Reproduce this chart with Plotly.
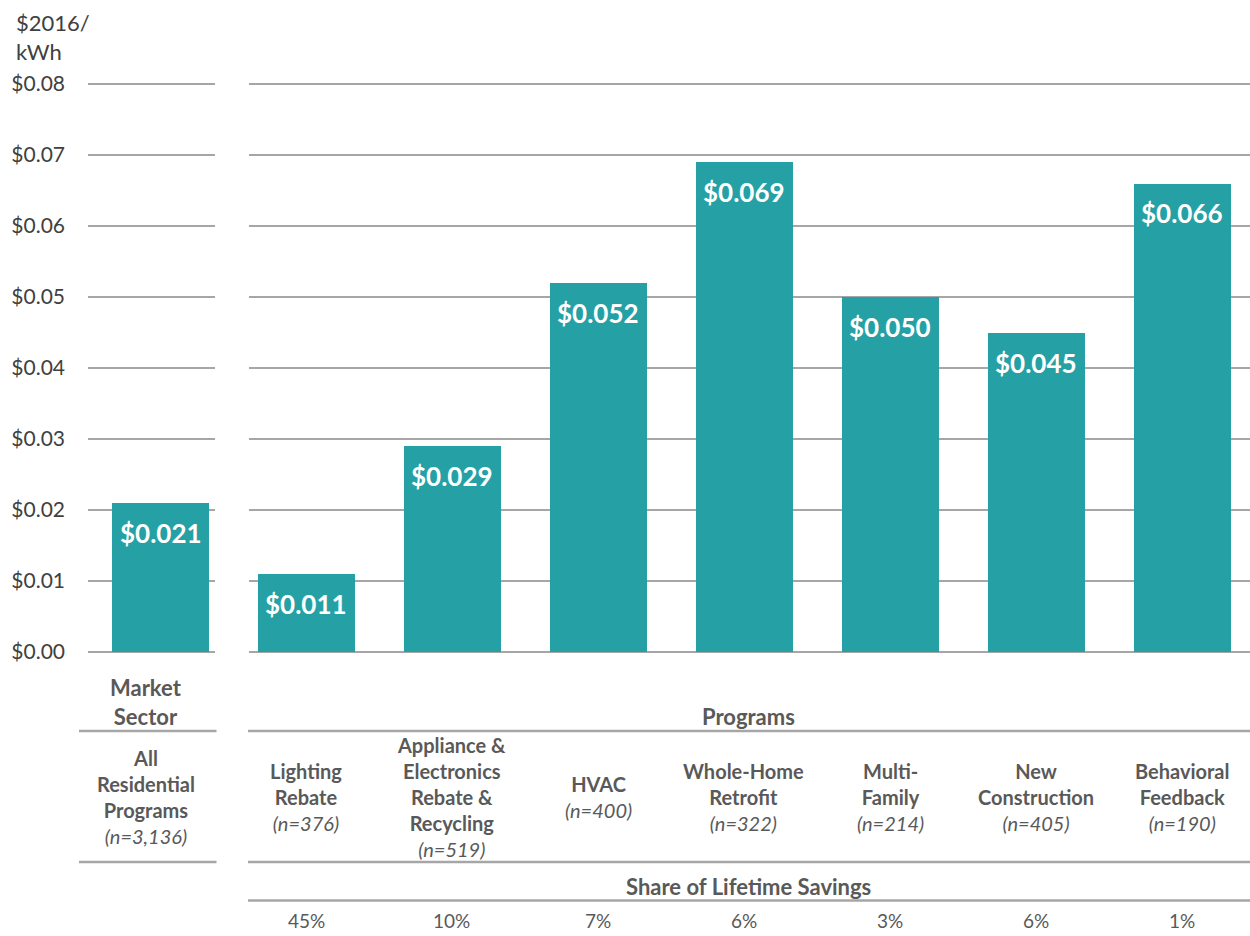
import plotly.graph_objects as go

# ---- data ----
sector_label = "All<br>Residential<br>Programs"
sector_n = "3,136"
sector_value = [0.021]

program_labels = [
    "Lighting<br>Rebate",
    "Appliance &<br>Electronics<br>Rebate &<br>Recycling",
    "HVAC",
    "Whole-Home<br>Retrofit",
    "Multi-<br>Family",
    "New<br>Construction",
    "Behavioral<br>Feedback",
]
program_n = ["376", "519", "400", "322", "214", "405", "190"]
program_values = [0.011, 0.029, 0.052, 0.069, 0.050, 0.045, 0.066]
savings_share = ["45%", "10%", "7%", "6%", "3%", "6%", "1%"]
y_ticks = [0.00, 0.01, 0.02, 0.03, 0.04, 0.05, 0.06, 0.07, 0.08]

# ---- style ----
W, H = 1250, 936
FONT = "Lato"
TEAL = "#25A1A6"
GRID = "#A6A6A6"
TEXT = "#595959"
TICK = "#404040"
UNIT = 146.0          # pixels per category step
BAR_W = 97 / UNIT
Y_MAX = 0.0806        # a little above the top tick so its gridline is kept


def fx(p):
    return p / W


def fy(p):
    return 1 - p / H


fig = go.Figure()

fig.add_bar(
    x=[0], y=sector_value, xaxis="x", yaxis="y", width=BAR_W,
    marker=dict(color=TEAL, line=dict(width=0)),
    hoverinfo="skip", showlegend=False,
)
fig.add_bar(
    x=list(range(len(program_values))), y=program_values,
    xaxis="x2", yaxis="y2", width=BAR_W,
    marker=dict(color=TEAL, line=dict(width=0)),
    hoverinfo="skip", showlegend=False,
)

px_per_unit_y = (652 - 84) / 0.08
y_domain = [fy(652), fy(652 - Y_MAX * px_per_unit_y)]
yax = dict(
    domain=y_domain, range=[0, Y_MAX], tickvals=y_ticks,
    showgrid=True, gridcolor=GRID, gridwidth=2,
    zeroline=True, zerolinecolor=GRID, zerolinewidth=2,
    showline=False, ticks="", automargin=False,
)

fig.update_layout(
    width=W, height=H,
    margin=dict(l=0, r=0, t=0, b=0, pad=0, autoexpand=False),
    paper_bgcolor="white", plot_bgcolor="white",
    bargap=0,
    font=dict(family=FONT, color=TEXT),
    xaxis=dict(domain=[fx(88), fx(215)],
               range=[(88 - 160.5) / UNIT, (215 - 160.5) / UNIT],
               visible=False, anchor="y", automargin=False),
    xaxis2=dict(domain=[fx(249), 1.0],
                range=[(249 - 306) / UNIT, (1250 - 306) / UNIT],
                visible=False, anchor="y2", automargin=False),
    yaxis=dict(**yax, anchor="x", tickformat="$.2f",
               ticklabelstandoff=22,
               tickfont=dict(family=FONT, size=21, color=TICK)),
    yaxis2=dict(**yax, anchor="x2", showticklabels=False),
)

ann = []


def paper_text(text, x, y, size=20, color=TEXT, xanchor="center",
               yanchor="middle", **kw):
    d = dict(text=text, x=fx(x), y=fy(y), xref="paper", yref="paper",
             xanchor=xanchor, yanchor=yanchor, showarrow=False,
             font=dict(family=FONT, size=size, color=color))
    d.update(kw)
    ann.append(d)


# value labels inside the bar tops
label_font = dict(family=FONT, size=26, color="white")
ann.append(dict(text=f"<b>${sector_value[0]:.3f}</b>", x=0, y=sector_value[0],
                xref="x", yref="y", xanchor="center", yanchor="top",
                yshift=-12, showarrow=False, font=label_font))
for i, v in enumerate(program_values):
    ann.append(dict(text=f"<b>${v:.3f}</b>", x=i, y=v,
                    xref="x2", yref="y2", xanchor="center", yanchor="top",
                    yshift=-12, showarrow=False, font=label_font))

# y-axis unit label
paper_text("$2016/<br>kWh", 14, 7, size=22, color=TICK,
           xanchor="left", yanchor="top", align="left")

# column headers
paper_text("<b>Market<br>Sector</b>", 146, 702, size=22)
paper_text("<b>Programs</b>", 748, 716, size=22)
paper_text("<b>Share of Lifetime Savings</b>", 748, 886, size=22)

# category labels
paper_text(f"<b>{sector_label}</b><br><i>(n={sector_n})</i>", 146, 797)
centers = [306 + UNIT * i for i in range(len(program_labels))]
for cx, lab, n, share in zip(centers, program_labels, program_n, savings_share):
    paper_text(f"<b>{lab}</b><br><i>(n={n})</i>", cx, 797)
    paper_text(share, cx, 920, size=19)

fig.update_layout(annotations=ann)

# table rules
shapes = []
for yy in (731, 862):
    shapes.append(dict(type="line", xref="paper", yref="paper",
                       x0=fx(79), x1=fx(216.5), y0=fy(yy), y1=fy(yy),
                       line=dict(color=GRID, width=2.5)))
for yy in (731, 862, 900.5):
    shapes.append(dict(type="line", xref="paper", yref="paper",
                       x0=fx(248), x1=1.0, y0=fy(yy), y1=fy(yy),
                       line=dict(color=GRID, width=2.5)))
fig.update_layout(shapes=shapes)

fig.write_html("out.html")
